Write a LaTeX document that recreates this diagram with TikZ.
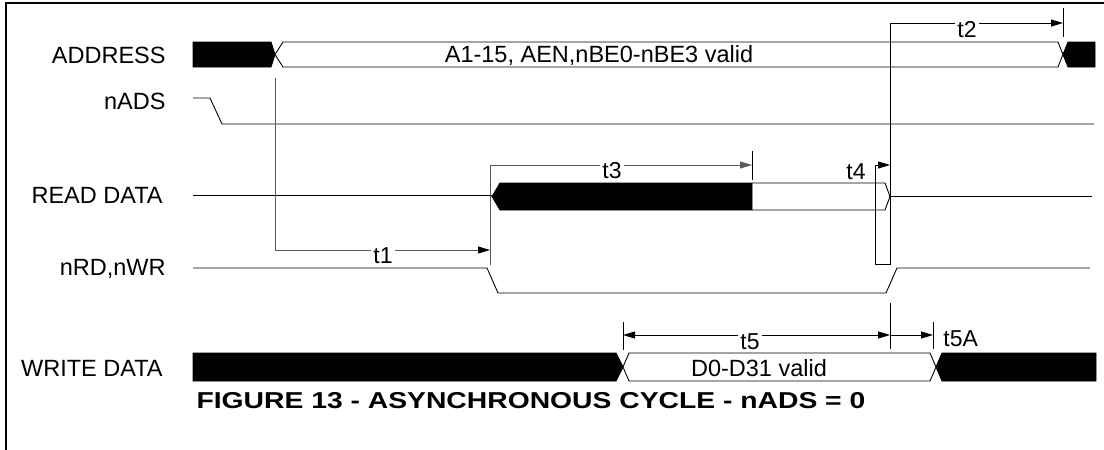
\documentclass[tikz,border=0pt]{standalone}
\usepackage{fontspec}
\setmainfont{Liberation Sans}
\newfontfamily\capfont[FakeStretch=1.23]{Liberation Sans}
\usetikzlibrary{arrows.meta}
\begin{document}
\begin{tikzpicture}[x=1pt,y=-1pt,line width=0.9pt,
  sig/.style={draw=black,line width=0.9pt},
  bus/.style={draw=black,line width=0.9pt,fill=white},
  busblk/.style={draw=black,fill=black,line width=0.9pt},
  tick/.style={draw=black,line width=0.9pt},
  meas/.style={draw=black,line width=0.9pt,-{Triangle[length=12pt,width=7pt]}},
  measg/.style={draw=black!65,line width=0.9pt,-{Triangle[length=12pt,width=7pt,fill=black,color=black]}},
  lbl/.style={anchor=east,inner sep=0pt,font=\fontsize{23.5}{27}\selectfont},
  txt/.style={inner sep=0pt,font=\fontsize{23.5}{27}\selectfont},
  tfont/.style={font=\fontsize{23}{27}\selectfont},
  tlbl/.style={fill=white,inner sep=2pt,tfont}]
\useasboundingbox (0,0) rectangle (1104,450);
% frame
\draw[line width=2.6pt] (6,450) -- (6,3) -- (1104,3);

% ---------- ADDRESS ----------
\node[lbl] (lAddr) at (166,55) {ADDRESS};
\path[busblk] (193,42) -- (271,42) -- (275,54.5) -- (271,67) -- (193,67) -- cycle;
\path[bus] (275,54.5) -- (283,42) -- (1058,42) -- (1063,54.5) -- (1058,67) -- (283,67) -- cycle;
\path[busblk] (1063,54.5) -- (1068,42) -- (1095,42) -- (1095,67) -- (1068,67) -- cycle;
\node[txt] (tAddr) at (599,55) {A1-15, AEN,nBE0-nBE3 valid};

% ---------- nADS ----------
\node[lbl] (lAds) at (166,101) {nADS};
\draw[sig] (193,98) -- (210,98) -- (222,124) -- (1094,124);

% ---------- READ DATA ----------
\node[lbl] (lRd) at (163,195) {READ DATA};
\draw[sig] (193,195) -- (492,195);
\path[busblk] (492,196.5) -- (500,183) -- (752,183) -- (752,210) -- (500,210) -- cycle;
\draw[sig] (752,183) -- (885,183) -- (890,196.5) -- (885,210) -- (752,210);
\draw[sig] (890,196.5) -- (1092,196.5);

% ---------- nRD,nWR ----------
\node[lbl] (lRw) at (166,269) {nRD,nWR};
\draw[sig] (193,268) -- (487,268) -- (498,293) -- (886,293) -- (897,268) -- (1090,268);

% ---------- WRITE DATA ----------
\node[lbl] (lWd) at (163,368) {WRITE DATA};
\path[busblk] (193,353) -- (616,353) -- (623,367) -- (616,381) -- (193,381) -- cycle;
\path[bus] (623,367) -- (629,353) -- (930,353) -- (936,367) -- (930,381) -- (629,381) -- cycle;
\path[busblk] (936,367) -- (942,353) -- (1096,353) -- (1096,381) -- (942,381) -- cycle;
\node[txt] (tWd) at (759,368) {D0-D31 valid};

% ---------- timing marks ----------
\coordinate (aEdge) at (275,78);
\coordinate (t1c) at (275,250);
\coordinate (rdEdge) at (490,250);
\coordinate (t3s) at (490,165);
\coordinate (t3e) at (752,165);
\coordinate (t4s) at (875,165);
\coordinate (t4e) at (890,165);
\coordinate (t2s) at (890,23);
\coordinate (t2e) at (1063,23);
\coordinate (t5s) at (623,335);
\coordinate (t5m) at (890,335);
\coordinate (t5e) at (933,335);

% t1
\draw[draw=black!65] (aEdge) -- (t1c);
\draw[measg] (t1c) -- (rdEdge);
\node[tlbl] (lt1) at (383,256) {t1};
% edge at 490 (t1 end / t3 start)
\draw[draw=black!65] (490,265) -- (t3s);
\draw[meas,draw=black!65] (t3s) -- (t3e);
\node[tlbl] (lt3) at (612,171) {t3};
\draw[tick] (752,151) -- (752,180);
% t4 box and t2 line
\draw[sig] (t4s) -- (875,264) -- (890,264) -- (t2s);
\draw[meas] (t4s) -- (t4e);
\node[inner sep=0pt,tfont] (lt4) at (856,172) {t4};
\draw[meas] (t2s) -- (t2e);
\draw[tick] (1063,8) -- (1063,37);
\node[tlbl] (lt2) at (967,30) {t2};
% t5 / t5A
\draw[tick] (623,322) -- (623,350);
\draw[tick] (890,303) -- (890,349);
\draw[tick] (933,322) -- (933,349);
\draw[meas,{Triangle[length=12pt,width=7pt]}-{Triangle[length=12pt,width=7pt]}] (t5s) -- (t5m);
\draw[meas] (t5m) -- (t5e);
\node[tlbl] (lt5) at (750,342) {t5};
\node[inner sep=0pt,anchor=west,tfont] (lt5a) at (943,339) {t5A};

% caption
\node[inner sep=0pt,font=\capfont\bfseries\fontsize{23}{27}\selectfont] (cap) at (531,401) {FIGURE 13 - ASYNCHRONOUS CYCLE - nADS = 0};
\end{tikzpicture}
\end{document}
